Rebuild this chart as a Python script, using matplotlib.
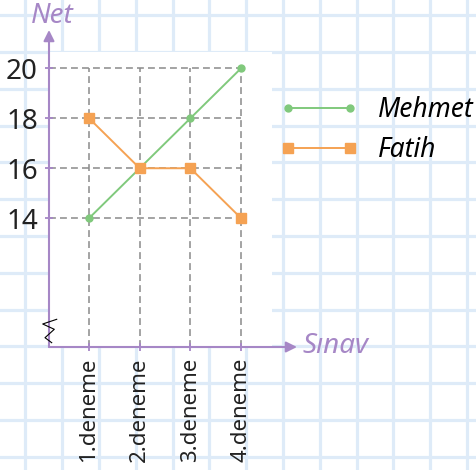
import numpy as np
import matplotlib.pyplot as plt
from matplotlib.lines import Line2D

# data
sinav = ["1.deneme", "2.deneme", "3.deneme", "4.deneme"]
mehmet = [14, 16, 18, 20]
fatih = [18, 16, 16, 14]
net_ticks = [14, 16, 18, 20]

purple = "#a687c6"
green = "#80c97c"
orange = "#f5a253"
gridblue = "#deebf8"

plt.rcParams['font.family'] = ['Noto Sans', 'DejaVu Sans']

W, H = 477, 470
fig = plt.figure(figsize=(W / 100, H / 100), dpi=100)

# squared paper background
bg = fig.add_axes([0, 0, 1, 1], zorder=-5)
bg.set_xlim(0, W)
bg.set_ylim(H, 0)
bg.axis("off")
for gx in np.arange(25.4, W, 36.8):
    bg.axvline(gx, color=gridblue, lw=2.3)
for gy in np.arange(15.2, H, 36.8):
    bg.axhline(gy, color=gridblue, lw=2.3)

# chart area
ax = fig.add_axes([49 / W, 123 / H, 223 / W, 295 / H])
ax.set_facecolor("white")
x = np.arange(1, len(sinav) + 1)
ax.set_xlim(0.211, 4.609)
ax.set_ylim(8.85, 20.65)

ax.vlines(x, 8.85, 20, colors="#8a8a8a", lw=1.1, linestyles=(0, (4.5, 2.7)), zorder=1)
ax.hlines(net_ticks, 0.211, 4, colors="#8a8a8a", lw=1.1, linestyles=(0, (4.5, 2.7)), zorder=1)

ax.plot(x, mehmet, color=green, lw=1.4, marker="o", ms=5, label="Mehmet", zorder=3)
ax.plot(x, fatih, color=orange, lw=1.4, marker="s", ms=6.5, label="Fatih", zorder=3)

for s in ax.spines.values():
    s.set_visible(False)

ax.set_xticks(x)
ax.set_xticklabels(sinav, rotation=90, fontsize=16, color="#222222")
ax.set_yticks(net_ticks)
ax.set_yticklabels([str(v) for v in net_ticks], fontsize=20, color="#222222")
ax.tick_params(direction="inout", length=6, width=1.3, color=purple, pad=5)

# axes with arrows
arrow = dict(arrowstyle="-|>", color=purple, lw=1.5, mutation_scale=16,
             shrinkA=0, shrinkB=0)
ax.annotate("", xy=(1.112, 0), xytext=(0, 0), xycoords="axes fraction",
            textcoords="axes fraction", arrowprops=arrow, annotation_clip=False)
ax.annotate("", xy=(0, 1.0746), xytext=(0, 0), xycoords="axes fraction",
            textcoords="axes fraction", arrowprops=arrow, annotation_clip=False)

fig.text(52 / W, 1 - 16 / H, "Net", color=purple, fontsize=20, style="italic",
         ha="center", va="center")
fig.text(302 / W, 1 - 346 / H, "Sınav", color=purple, fontsize=20, style="italic",
         ha="left", va="center")

# axis break mark
zz_x = [56.7, 42.7, 54.3, 45.0, 51.7]
zz_y = [319.3, 324.0, 329.3, 337.7, 342.7]
fig.add_artist(Line2D([p / W for p in zz_x], [1 - p / H for p in zz_y],
                      color="black", lw=0.8, transform=fig.transFigure))

fig.legend(loc="center left", bbox_to_anchor=(280 / W, 1 - 130 / H),
           bbox_transform=fig.transFigure, frameon=False, numpoints=2,
           handlelength=2.95, handletextpad=0.76,
           borderpad=0, borderaxespad=0, labelspacing=0.45,
           prop={"style": "italic", "size": 19})

fig.savefig("out.png", dpi=100)
